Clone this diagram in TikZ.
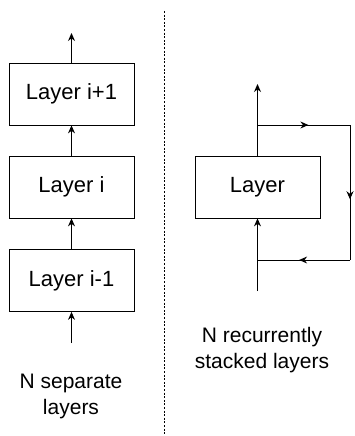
\documentclass[tikz,border=0pt]{standalone}
\usepackage{fontspec}
\setmainfont{Liberation Sans}
\usepackage{tikz}
\usetikzlibrary{arrows.meta,decorations.markings}
\pgfdeclarelayer{bg}
\pgfsetlayers{bg,main}
\tikzset{
    layerbox/.style={rectangle, draw, line width=0.8pt, minimum width=125pt, minimum height=62pt, inner sep=0pt, font=\fontsize{22}{26}\selectfont},
    caption/.style={align=center, inner sep=0pt, font=\fontsize{21}{26}\selectfont},
    flow/.style={line width=0.9pt, -{Stealth[length=8pt,width=7pt]}},
    midarrow/.style={line width=0.9pt, postaction={decorate}, decoration={markings, mark=at position 0.55 with {\arrow{Stealth[length=8pt,width=7pt]}}}}
}

\begin{document}
\begin{tikzpicture}[x=1pt, y=-1pt]
        \useasboundingbox (0,0) rectangle (354,436);
        \node (lup) [layerbox] at (71.5, 94) {Layer i+1};
        \node (lmid) [layerbox] at (71.5, 187) {Layer i};
        \node (llow) [layerbox] at (71.5, 280.5) {Layer i-1};
        \coordinate (lout) at (71.5, 33);
        \coordinate (lin) at (71.5, 343);
        \node (lcap) [caption] at (71, 396) {N separate\\layers};
        \coordinate (sept) at (164, 11);
        \coordinate (sepb) at (164, 436);
        \node (rec) [layerbox] at (257.5, 187) {Layer};
        \coordinate (rout) at (257.5, 84);
        \coordinate (rsplit) at (257.5, 125);
        \coordinate (rne) at (350, 125);
        \coordinate (rse) at (350, 260);
        \coordinate (rjoin) at (257.5, 260);
        \coordinate (rin) at (257.5, 291);
        \node (rcap) [caption] at (262, 350) {N recurrently\\stacked layers};
        \begin{pgfonlayer}{bg}
                \draw [flow] (lup) -- (lout);
                \draw [flow] (lmid) -- (lup);
                \draw [flow] (llow) -- (lmid);
                \draw [flow] (lin) -- (llow);
                \draw [line width=0.8pt, dash pattern=on 2pt off 1.6pt] (sept) -- (sepb);
                \draw [flow] (rec) -- (rout);
                \draw [midarrow] (rsplit) -- (rne);
                \draw [midarrow] (rne) -- (rse);
                \draw [midarrow] (rse) -- (rjoin);
                \draw [flow] (rin) -- (rec);
        \end{pgfonlayer}
\end{tikzpicture}
\end{document}
